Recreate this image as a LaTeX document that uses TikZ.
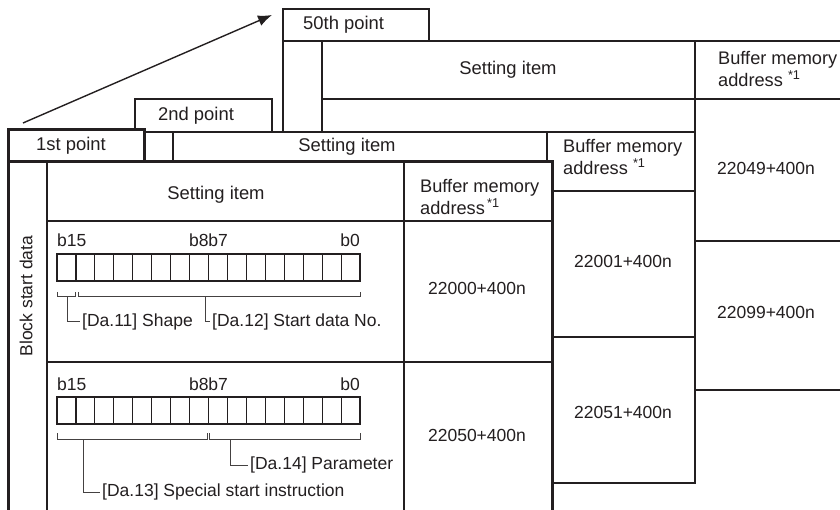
\documentclass[tikz,border=0pt]{standalone}
\usepackage{fontspec}
\setmainfont{Liberation Sans}
\usetikzlibrary{arrows.meta,calc}
\definecolor{lineColor}{RGB}{35,31,32}
\definecolor{textColor}{RGB}{35,31,32}

\begin{document}
\begin{tikzpicture}[
  x=1pt, y=-1pt,
  font=\fontsize{17.5}{21.5}\selectfont,
  cell/.style={draw=lineColor, fill=white, line width=1.4pt, anchor=north west, inner sep=0pt, outer sep=0pt},
  thickcell/.style={cell, line width=3pt},
  thickframe/.style={draw=lineColor, line width=3pt, anchor=north west, inner sep=0pt, outer sep=0pt},
  txt/.style={text=textColor, inner sep=2pt},
  hdr/.style={txt, font=\fontsize{18.4}{21.5}\selectfont},
  stack/.style={text=textColor, align=left, inner sep=0pt, font=\fontsize{18.2}{21.5}\selectfont},
  bitbox/.style={draw=lineColor, line width=1.2pt},
  brace/.style={draw=lineColor!85, line width=1pt},
  arrow/.style={-{Latex[length=14pt, width=11pt]}, line width=1.4pt, draw=lineColor}
]
\useasboundingbox (0,0) rectangle (840,510);
\clip (0,0) rectangle (840,510);

% ------------------------------------------------------------------
% 50th point (back)
% ------------------------------------------------------------------
\node[cell, minimum width=146, minimum height=32] (pt50) at (283,9) {};
\node[hdr, anchor=west] (pt50lbl) at ($(pt50.west)+(18,0)$) {50th point};

\node[cell, minimum width=39, minimum height=480] (side50) at (283,41) {};
\node[cell, minimum width=373, minimum height=58] (set50) at (322,41) {};
\node[cell, minimum width=373, minimum height=291] (row50) at (322,99) {};
\node[cell, minimum width=150, minimum height=58] (bma50) at (695,41) {};
\node[cell, minimum width=150, minimum height=142] (adr50a) at (695,99) {};
\node[cell, minimum width=150, minimum height=149] (adr50b) at (695,241) {};

\node[hdr] (set50lbl) at (508,70) {Setting item};
\node[stack, anchor=west] (bma50lbl) at (718,69) {Buffer memory\\address \textsuperscript{*1}};
\node[txt] (adr50albl) at (766,168) {22049+400n};
\node[txt] (adr50blbl) at (766,312) {22099+400n};

% ------------------------------------------------------------------
% 2nd point
% ------------------------------------------------------------------
\node[cell, minimum width=137, minimum height=33] (pt2) at (135,99) {};
\node[hdr, anchor=west] (pt2lbl) at ($(pt2.west)+(21,0)$) {2nd point};

\node[cell, minimum width=38, minimum height=351] (side2) at (135,132) {};
\node[cell, minimum width=374, minimum height=59] (set2) at (173,132) {};
\node[cell, minimum width=374, minimum height=292] (row2) at (173,191) {};
\node[cell, minimum width=148, minimum height=59] (bma2) at (547,132) {};
\node[cell, minimum width=148, minimum height=146] (adr2a) at (547,191) {};
\node[cell, minimum width=148, minimum height=146] (adr2b) at (547,337) {};

\node[hdr] (set2lbl) at (347,147) {Setting item};
\node[stack, anchor=west] (bma2lbl) at (563,157) {Buffer memory\\address \textsuperscript{*1}};
\node[txt] (adr2albl) at (623,261) {22001+400n};
\node[txt] (adr2blbl) at (623,412) {22051+400n};

% ------------------------------------------------------------------
% 1st point (front)
% ------------------------------------------------------------------
\node[cell, minimum width=39, minimum height=360] (side1) at (8,162) {};
\node[cell, minimum width=357, minimum height=59] (set1) at (47,162) {};
\node[cell, minimum width=149, minimum height=59] (bma1) at (404,162) {};
\node[cell, minimum width=357, minimum height=141] (row1a) at (47,221) {};
\node[cell, minimum width=149, minimum height=141] (adr1a) at (404,221) {};
\node[cell, minimum width=357, minimum height=160] (row1b) at (47,362) {};
\node[cell, minimum width=149, minimum height=160] (adr1b) at (404,362) {};
\node[thickframe, minimum width=544, minimum height=360] (tbl1) at (8,162) {};
\node[thickcell, minimum width=136, minimum height=32] (pt1) at (8,130) {};
\node[hdr, anchor=west] (pt1lbl) at ($(pt1.west)+(26,0)$) {1st point};

\node[txt, rotate=90] (side1lbl) at (26,296) {Block start data};
\node[hdr] (set1lbl) at (216,195) {Setting item};
\node[stack, anchor=west] (bma1lbl) at (420,197) {Buffer memory\\address\textsuperscript{\,*1}};
\node[txt] (adr1albl) at (477,288) {22000+400n};
\node[txt] (adr1blbl) at (477,435) {22050+400n};

% Bit registers
\coordinate (reg1) at (57,254);
\coordinate (reg2) at (57,397);
\foreach \r in {reg1,reg2} {
  \foreach \i in {0,...,15}
    \draw[bitbox] ($(\r)+(18.94*\i,0)$) rectangle ++(18.94,27);
  \node[txt, inner sep=0pt, anchor=base west] (\r-b15) at ($(\r)+(0,-7)$) {b15};
  \node[txt, inner sep=0pt, anchor=base] (\r-b8) at ($(\r)+(151.5,-7)$) {b8b7};
  \node[txt, inner sep=0pt, anchor=base east] (\r-b0) at ($(\r)+(303,-7)$) {b0};
}

% brackets, row 1
\draw[brace] ($(reg1)+(0,38)$) |- ($(reg1)+(18,43)$) -- ++(0,-5);
\draw[brace] ($(reg1)+(21,38)$) |- ($(reg1)+(303,43)$) -- ++(0,-5);
\coordinate (da11tap) at ($(reg1)+(10,43)$);
\coordinate (da12tap) at ($(reg1)+(148,43)$);
\node[txt, anchor=west] (da11) at (80,322) {[Da.11] Shape};
\node[txt, anchor=west] (da12) at (210,322) {[Da.12] Start data No.};
\draw[brace] (da11tap) |- (da11.west);
\draw[brace] (da12tap) |- (da12.west);

% brackets, row 2
\draw[brace] ($(reg2)+(0,36)$) |- ($(reg2)+(150,42)$) -- ++(0,-6);
\draw[brace] ($(reg2)+(152,36)$) |- ($(reg2)+(303,42)$) -- ++(0,-6);
\coordinate (da13tap) at ($(reg2)+(26,42)$);
\coordinate (da14tap) at ($(reg2)+(173,42)$);
\node[txt, anchor=west] (da13) at (100,492) {[Da.13] Special start instruction};
\node[txt, anchor=west] (da14) at (248,465) {[Da.14] Parameter};
\draw[brace] (da13tap) |- (da13.west);
\draw[brace] (da14tap) |- (da14.west);

% arrow towards the last point
\coordinate (arrStart) at ($(pt1.north west)+(15,-7)$);
\coordinate (arrEnd) at ($(pt50.north west)+(-11,6)$);
\draw[arrow] (arrStart) -- (arrEnd);

\end{tikzpicture}
\end{document}
